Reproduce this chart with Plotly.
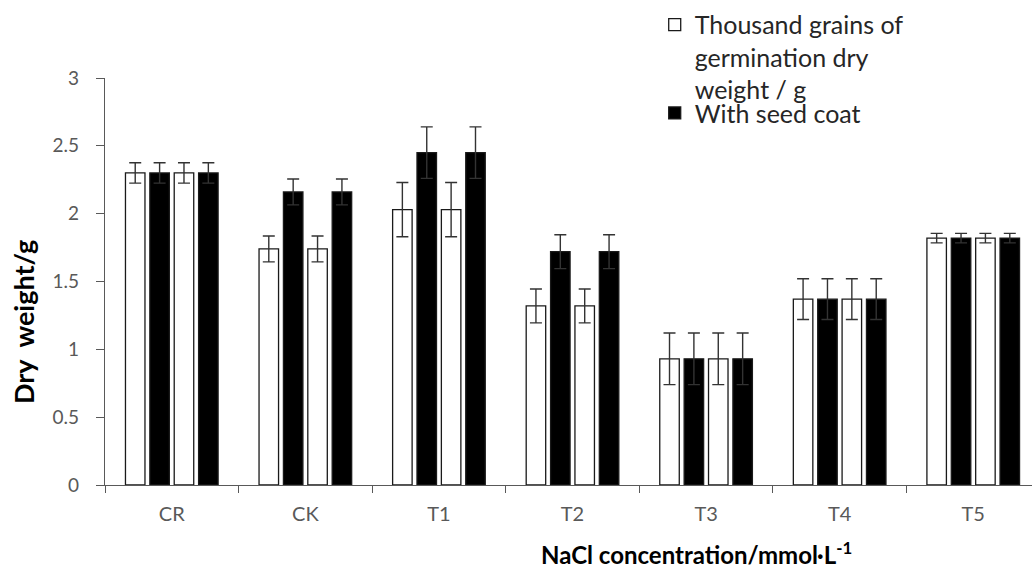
import plotly.graph_objects as go

categories = ["CR", "CK", "T1", "T2", "T3", "T4", "T5"]
germ_dry = [2.30, 1.74, 2.03, 1.32, 0.93, 1.37, 1.82]
germ_err = [0.075, 0.095, 0.20, 0.125, 0.19, 0.15, 0.035]
seed_coat = [2.30, 2.16, 2.45, 1.72, 0.93, 1.37, 1.82]
seed_err = [0.075, 0.095, 0.19, 0.125, 0.19, 0.15, 0.035]
y_ticks = [0, 0.5, 1, 1.5, 2, 2.5, 3]
y_tick_text = ["0", "0.5", "1", "1.5", "2", "2.5", "3"]

FONT = "Lato"
ERRC = "#333333"

fig = go.Figure()
series = [
    ("Thousand grains of<br>germination dry<br>weight / g", germ_dry, germ_err, "white", True, "legend"),
    ("With seed coat", seed_coat, seed_err, "black", True, "legend2"),
    ("Thousand grains of<br>germination dry<br>weight / g", germ_dry, germ_err, "white", False, "legend"),
    ("With seed coat", seed_coat, seed_err, "black", False, "legend2"),
]
for name, vals, errs, fill, show, lg in series:
    fig.add_trace(go.Bar(
        x=categories, y=vals, name=name, showlegend=show, legend=lg,
        marker=dict(color=fill, line=dict(color="#1a1a1a", width=1.3)),
        error_y=dict(type="data", array=errs, visible=True, color=ERRC,
                     thickness=1.4, width=6),
    ))

legend_style = dict(
    xanchor="left", yanchor="top",
    font=dict(family=FONT, size=25, color="#262626"),
    valign="top", tracegroupgap=0, itemwidth=30,
    bgcolor="rgba(0,0,0,0)",
)

fig.update_layout(
    width=1032, height=569,
    barmode="group", bargap=0.27, bargroupgap=0.2,
    plot_bgcolor="white", paper_bgcolor="white",
    margin=dict(l=105, r=0, t=78, b=84, pad=0),
    font=dict(family=FONT, color="#595959"),
    legend=dict(x=0.593, y=1.187, **legend_style),
    legend2=dict(x=0.593, y=0.97, **legend_style),
    xaxis=dict(
        range=[-0.5, 6.44], showline=True, linecolor="#595959", linewidth=1.3,
        ticks="outside", ticklen=7, tickwidth=1.3, tickcolor="#595959",
        tickson="boundaries", tickfont=dict(size=20, color="#595959"),
        ticklabelstandoff=11,
        showgrid=False, zeroline=False,
    ),
    yaxis=dict(
        range=[0, 3], tickvals=y_ticks, ticktext=y_tick_text,
        showline=True, linecolor="#595959", linewidth=1.3,
        ticks="outside", ticklen=8, tickwidth=1.3, tickcolor="#595959",
        tickfont=dict(size=19, color="#595959"), ticklabelstandoff=13,
        showgrid=False, zeroline=False,
    ),
    annotations=[
        dict(text="NaCl concentration/mmol·L<sup>-1</sup>", xref="paper", yref="paper",
             x=(696 - 105) / 927, y=(485 - 553) / 407, xanchor="center", yanchor="middle",
             showarrow=False, font=dict(family=FONT, size=24, color="#000000", weight="bold")),
        dict(text="Dry\u00a0\u00a0weight/g", xref="paper", yref="paper", textangle=-90,
             x=(23 - 105) / 927, y=(485 - 322) / 407, xanchor="center", yanchor="middle",
             showarrow=False, font=dict(family=FONT, size=27, color="#000000", weight="bold")),
    ],
)

fig.write_html("out.html")
